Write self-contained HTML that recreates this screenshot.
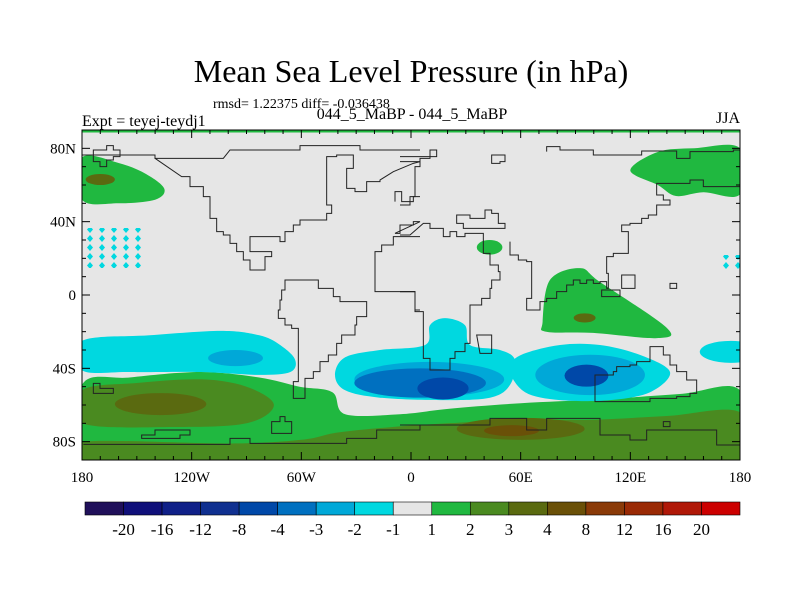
<!DOCTYPE html>
<html><head><meta charset="utf-8"><style>
body{margin:0;background:#fff;}
svg{display:block;font-family:"Liberation Serif",serif;}
</style></head><body>
<svg id="chart" width="800" height="600" xmlns="http://www.w3.org/2000/svg">
<text x="411" y="82" text-anchor="middle" font-size="32">Mean Sea Level Pressure (in hPa)</text>
<text x="213" y="108" font-size="14">rmsd= 1.22375 diff= -0.036438</text>
<text x="82" y="126" font-size="16">Expt = teyej-teydj1</text>
<text x="412" y="119" text-anchor="middle" font-size="16">044_5_MaBP - 044_5_MaBP</text>
<text x="740" y="123" text-anchor="end" font-size="16">JJA</text>
<defs>
<clipPath id="mapclip"><rect x="82" y="130" width="658" height="330"/></clipPath>
<pattern id="dots" width="12" height="9" patternUnits="userSpaceOnUse"><path d="M6 1 L9 4.5 L6 8 L3 4.5Z" fill="#00d8e0"/></pattern>
</defs>
<g id="map" clip-path="url(#mapclip)">
<rect x="82" y="130" width="658" height="330" fill="#e6e6e6"/>
<g id="fills"></g>
<rect x="85" y="228" width="62" height="40" fill="url(#dots)"/>
<rect x="722" y="255" width="18" height="16" fill="url(#dots)"/>
<rect x="82" y="130" width="658" height="2.5" fill="#20bb40"/>
<g transform="translate(80,125) scale(0.33333)" fill="none" stroke="#222" stroke-width="1">
<path vector-effect="non-scaling-stroke" d="M0 90 H225 V100 H430 L450 75 H660 V62 H840 V75 H1020"/>
<path vector-effect="non-scaling-stroke" d="M225 100 L305 155 H330 V185 H370 V215 H390 V280 H410 V320 H430 V330 H450 V355 H470 V380 H490 V405 H510 V435 H555 V395 H575 V380 H510 V335 H600 V350 H615 V320 H640 V300 H660 V285 H740 V265 H755 V240 H740 V95 H770 V90 H820 V130 H800 V190 H825 V200 H860 V170 H900 V165 L940 140 L1000 115 L1020 110"/>
<path vector-effect="non-scaling-stroke" d="M40 75 H80 V62 H100 V75 H120 V95 H100 V105 H80 V125 H60 V110 H40 Z"/>
<path vector-effect="non-scaling-stroke" d="M615 465 H715 V490 H760 V515 H780 V530 H860 V575 H830 V600 H825 V630 H785 V655 H770 V690 H745 V710 H720 V740 H700 V760 H675 V820 H640 V770 H655 V720 H655 V610 H635 V600 H615 V580 H595 V555 H600 V525 H605 V495 H615 Z"/>
<path vector-effect="non-scaling-stroke" d="M945 230 V200 H965 V230 H1000 V215 H1020 M1020 290 H1000 V300 H960 V325 H945 Z M1020 335 H940 V360 H905 V380 H885 V500 H1005 V555 H1020"/>
<path vector-effect="non-scaling-stroke" d="M40 775 H60 V790 H100 V805 H40 Z M185 930 H225 V915 H330 V930 H300 V940 H185 Z M575 890 H600 V875 H615 V890 H635 V925 H575 Z"/>
<path vector-effect="non-scaling-stroke" d="M10 958 H450 V940 H510 V955 H800 V940 H890 V915 H1020 V900"/>
</g>
<g transform="translate(400,125) scale(0.33333)" fill="none" stroke="#222" stroke-width="1">
<path vector-effect="non-scaling-stroke" d="M0 95 H110 V75 H90 V100 H60 V125 H45 V160 H45 V215 H30 V240 H0"/>
<path vector-effect="non-scaling-stroke" d="M0 110 H60 M0 330 H30 L70 295 H90 V310 H130 V335 H150 V320 H170 V335 H195 V325 H250 V385 H270 V420 H295 V440 H300 V465 H275 V490 H270 V520 H245 V540 H210 V655 H195 V680 H165 V700 H150 V735 H90 V700 H70 V640 H70 V560 H45 V500 H0"/>
<path vector-effect="non-scaling-stroke" d="M0 500 H45 M330 350 V390 H355 V405 H380 V410 H395 V520 H380 V555 H420 V530 H440 V520 H470 V500 H500 V480 H520 V465 H540 V475 H560 V465 H580 V475 H600 V470 H620 V490 H625 V445 H620 V395 H640 V385 H685 V320 H665 V300 H690 V295 H725 V280 H745 V270 H770 V240 H810 V225 H790 V210 H770 V175 H870 V165 H910 V185 H1029"/>
<path vector-effect="non-scaling-stroke" d="M440 80 V65 H480 V75 H580 V90 H725 V78 H830 V100 H870 V80 H1000 V75 H1029 M170 270 H210 V280 H255 V255 H275 V265 H295 V295 H315 V310 H190 V295 H170 Z M275 90 H315 V110 H300 V115 H275 Z"/>
<path vector-effect="non-scaling-stroke" d="M230 630 H275 V685 H240 Z M665 450 H705 V490 H665 Z M810 475 H830 V490 H810 Z M605 495 H660 V515 H605 Z"/>
<path vector-effect="non-scaling-stroke" d="M750 665 H790 V690 H810 V720 H830 V740 H860 V765 H890 V805 H870 V815 H830 V820 H750 V830 H585 V750 H640 V740 H650 V725 H690 V720 H710 V710 H750 Z"/>
<path vector-effect="non-scaling-stroke" d="M0 900 H270 V880 H380 V915 H440 V880 H600 V930 H690 V945 H740 V915 H950 V960 H1029 M790 890 H810 V905 H790 Z"/>
</g>
</g>
<rect x="82" y="130" width="658" height="330" fill="none" stroke="#000" stroke-width="1"/>
<g id="ticks"></g>
<g id="axislabels" font-size="15"></g>
<g id="colorbar" font-size="17"></g>
</svg>
<script>
const levelColors = ["#20105a","#10107a","#102088","#103090","#0048a8","#0070c0","#00a8d8","#00d8e0","#e6e6e6","#20b840","#4a8a20","#5a6a10","#6a5008","#8a3a08","#9a2a05","#b01808","#cc0000"];
const colorbarLabels = ["-20","-16","-12","-8","-4","-3","-2","-1","1","2","3","4","8","12","16","20"];
const polyLevels = [9,10,10,7,7,7,9,9,9];
const polyNames = ["southern-ocean-band","south-pacific-high","antarctic-band","south-pacific-low","south-atlantic-low","indian-ocean-low","north-pacific-high","northeast-pacific-high","indian-ocean-high"];
const polyCoords = [
 [[-180,-49],[-154,-45],[-115,-42],[-83,-45],[-61,-50],[-43,-53],[-36,-65],[-6,-65],[21,-62],[60,-59],[103,-57],[147,-54],[180,-52],[180,-90],[-180,-90]],
 [[-180,-52],[-150,-48],[-115,-46],[-90,-50],[-75,-60],[-90,-70],[-130,-72],[-180,-70]],
 [[-180,-80],[-100,-81],[-60,-79],[-40,-75],[-10,-72],[20,-70],[60,-68],[100,-68],[140,-66],[180,-64],[180,-90],[-180,-90]],
 [[-180,-25],[-143,-22],[-104,-19.6],[-83,-22],[-72,-27],[-63.5,-35],[-66,-42],[-83,-43.6],[-115,-42],[-154,-42],[-180,-41]],
 [[-41.6,-43.6],[-36,-34],[-17,-30],[7.7,-27.3],[10.4,-16.4],[18.6,-12.6],[29.5,-16.4],[32.3,-27.3],[48.7,-30],[56.9,-35.5],[54.2,-49],[43.2,-56],[15.9,-57.3],[-17,-56],[-36,-52]],
 [[54,-41],[59.6,-33],[81.5,-27.3],[103.4,-27.3],[125.3,-32.7],[141.7,-42],[130.8,-53],[108.9,-57.3],[81.5,-57.3],[62.4,-53]],
 [[-180,75],[-160,72],[-145,66],[-135,58],[-140,52],[-160,50],[-180,52]],
 [[120,68],[135,78],[155,80],[180,80],[180,55],[160,56],[145,54],[135,60]],
 [[72,-14.7],[76,8.2],[92.5,14.7],[103.4,7.1],[140,-18],[134.6,-23.5],[99.6,-20.7],[74,-20]]
];
const ellLevels = [11,12,11,6,6,6,5,4,4,7,11,11,9];
const ellParams = [
 [-137,-59.5,25,6],[55,-74,15,3],[60,-73,35,6],
 [-96,-34.4,15,4.4],[10,-46,41,9.5],
 [98,-43.6,30,11],[5,-48,36,8],[17.5,-51,14,6],[96,-44,12,6],[175,-31,17,6],
 [-170,63,8,3],[95,-12.5,6,2.5],[43,26,7,4]
];
const ellNames = ["pacific-high-core","antarctic-core","antarctic-olive","pacific-low-core","atlantic-low-mid","indian-low-mid","atlantic-low-inner","atlantic-low-deep","indian-low-deep","east-pacific-low","north-pacific-core","indian-high-core","mediterranean-high"];
const lonTicks = [-180,-120,-60,0,60,120,180];
const lonTickLabels = ["180","120W","60W","0","60E","120E","180"];
const latTicks = [80,40,0,-40,-80];
const latTickLabels = ["80N","40N","0","40S","80S"];

const NS="http://www.w3.org/2000/svg";
const X0=82,X1=740,Y0=130,Y1=460;
function xLon(lon){return X0+(lon+180)/360*(X1-X0);}
function yLat(lat){return Y0+(90-lat)/180*(Y1-Y0);}
function mk(tag,attrs,parent){const e=document.createElementNS(NS,tag);for(const k in attrs)e.setAttribute(k,attrs[k]);parent.appendChild(e);return e;}
function smooth(pts){
 const n=pts.length;let d="";
 for(let i=0;i<n;i++){
  const p0=pts[(i-1+n)%n],p1=pts[i],p2=pts[(i+1)%n],p3=pts[(i+2)%n];
  if(i===0)d+="M"+p1[0]+" "+p1[1];
  const c1=[p1[0]+(p2[0]-p0[0])/6,p1[1]+(p2[1]-p0[1])/6];
  const c2=[p2[0]-(p3[0]-p1[0])/6,p2[1]-(p3[1]-p1[1])/6];
  d+="C"+c1[0].toFixed(1)+" "+c1[1].toFixed(1)+" "+c2[0].toFixed(1)+" "+c2[1].toFixed(1)+" "+p2[0].toFixed(1)+" "+p2[1].toFixed(1);
 }
 return d+"Z";
}
const fills=document.getElementById("fills");
const items=[];
polyCoords.forEach((c,i)=>items.push({t:"p",i,lev:polyLevels[i]}));
ellParams.forEach((c,i)=>items.push({t:"e",i,lev:ellLevels[i]}));
items.sort((a,b)=>Math.abs(a.lev-8)-Math.abs(b.lev-8));
items.forEach(it=>{
 let el;
 if(it.t==="p"){
  const pts=polyCoords[it.i].map(p=>[xLon(p[0]),yLat(p[1])]);
  el=mk("path",{d:smooth(pts),fill:levelColors[it.lev]},fills);
  
 } else {
  const e=ellParams[it.i];
  el=mk("ellipse",{cx:xLon(e[0]),cy:yLat(e[1]),rx:e[2]/360*(X1-X0),ry:e[3]/180*(Y1-Y0),fill:levelColors[it.lev]},fills);
  
 }
 
});
const tg=document.getElementById("ticks");
for(let lon=-180;lon<=180;lon+=10){
 const x=xLon(lon),L=(lon%60===0)?8:4;
 const a=mk("line",{x1:x,x2:x,y1:Y1,y2:Y1-L,stroke:"#000"},tg);
 
 
 const b=mk("line",{x1:x,x2:x,y1:Y0,y2:Y0+L,stroke:"#000"},tg);
 
 
}
for(let lat=-90;lat<=90;lat+=10){
 const y=yLat(lat),L=(lat%40===0)?8:4;
 const a=mk("line",{x1:X0,x2:X0+L,y1:y,y2:y,stroke:"#000"},tg);
 
 
 const b=mk("line",{x1:X1,x2:X1-L,y1:y,y2:y,stroke:"#000"},tg);
 
 
}
const al=document.getElementById("axislabels");
lonTicks.forEach((lon,i)=>{
 const t=mk("text",{x:xLon(lon),y:482,"text-anchor":"middle"},al);
 t.textContent=lonTickLabels[i];
 
 
});
latTicks.forEach((lat,i)=>{
 const t=mk("text",{x:76,y:yLat(lat)+5,"text-anchor":"end"},al);
 t.textContent=latTickLabels[i];
 
 
});
const cb=document.getElementById("colorbar");
const cbX=85,cbW=(740-85)/levelColors.length;
levelColors.forEach((c,i)=>{
 const r=mk("rect",{x:cbX+i*cbW,y:502,width:cbW,height:13,fill:c,stroke:"#000","stroke-width":0.6},cb);
 
 
});
colorbarLabels.forEach((s,i)=>{
 const t=mk("text",{x:cbX+(i+1)*cbW,y:535,"text-anchor":"middle"},cb);
 t.textContent=s;
 
 
});
</script>
</body></html>
